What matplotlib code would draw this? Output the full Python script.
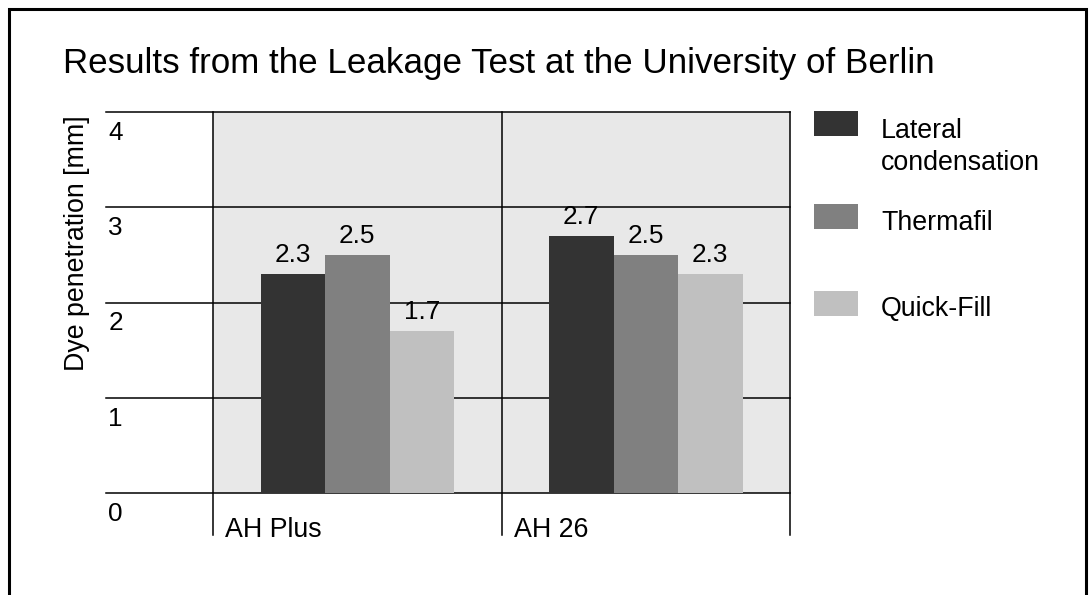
import matplotlib
matplotlib.use("Agg")
import matplotlib.pyplot as plt
from matplotlib.patches import Rectangle
import numpy as np

categories = ["AH Plus", "AH 26"]
series_names = ["Lateral\ncondensation", "Thermafil", "Quick-Fill"]
lateral = [2.3, 2.7]
thermafil = [2.5, 2.5]
quickfill = [1.7, 2.3]
value_labels = [["2.3", "2.7"], ["2.5", "2.5"], ["1.7", "2.3"]]
yticks = [0, 1, 2, 3, 4]
colors = ["#333333", "#808080", "#c0c0c0"]

W, H = 1089, 595
plt.rcParams['font.family'] = ['Liberation Sans', 'DejaVu Sans']
fig = plt.figure(figsize=(W / 100, H / 100), dpi=100)

def fx(px):
    return px / W

def fy(py):
    return 1 - py / H

# figure border
fig.add_artist(Rectangle((fx(9), -0.05), fx(1086) - fx(9), fy(9.5) + 0.05,
                         transform=fig.transFigure, fill=False, edgecolor='black',
                         linewidth=2.2, clip_on=False))

left, right, top, bottom = 213, 790, 112, 493
ax = fig.add_axes([fx(left), fy(bottom), fx(right) - fx(left), fy(top) - fy(bottom)])
ax.set_facecolor('#e8e8e8')
for s in ax.spines.values():
    s.set_visible(False)
ax.set_xlim(0, 2)
ax.set_ylim(0, 4)
ax.set_xticks([])
ax.set_yticks([])

unit_px = (bottom - top) / 4.0
fs_num = 18.8
fs_txt = 19.3

# horizontal gridlines extending left
xmin_ax = (106 - left) / (right - left)
for t in yticks:
    ax.axhline(t, xmin=xmin_ax, xmax=1, color='black', linewidth=1.1, clip_on=False, zorder=1)
    ax.text(xmin_ax + 0.004, t - 9 / unit_px, str(t), transform=ax.get_yaxis_transform(),
            ha='left', va='top', fontsize=fs_num, clip_on=False)

# vertical lines
ymin_ax = -(535 - bottom) / (bottom - top)
for xv in [0, 1, 2]:
    ax.axvline(xv, ymin=ymin_ax, ymax=1, color='black', linewidth=1.1, clip_on=False, zorder=1)

# bars
bw = 64.5 / 288.5
x = np.arange(len(categories)) + 0.5
series = [lateral, thermafil, quickfill]
for i, (vals, c) in enumerate(zip(series, colors)):
    xs = x + (i - 1) * bw
    ax.bar(xs, vals, width=bw, color=c, zorder=2)
    for xi, v, lab in zip(xs, vals, value_labels[i]):
        ax.text(xi, v + 7 / unit_px, lab, ha='center', va='bottom', fontsize=fs_num, zorder=3)

# category labels
for xi, cat in zip(np.arange(len(categories)), categories):
    ax.text(xi + 12 / 288.5, -(517 - bottom) / (bottom - top), cat,
            transform=ax.get_xaxis_transform(), ha='left', va='top', fontsize=fs_txt, clip_on=False)

# y label
fig.text(fx(77), fy(243), "Dye penetration [mm]", rotation=90, ha='center', va='center', fontsize=fs_txt)

# title
fig.text(fx(63), fy(73), "Results from the Leakage Test at the University of Berlin",
         ha='left', va='baseline', fontsize=25.2)

# legend
sq = [(111, 136), (204, 229), (291, 316)]
for (y0, y1), c in zip(sq, colors):
    fig.add_artist(Rectangle((fx(814), fy(y1)), fx(858) - fx(814), fy(y0) - fy(y1),
                             transform=fig.transFigure, facecolor=c, edgecolor='none'))
lines_text = [("Lateral", 138), ("condensation", 170), ("Thermafil", 230), ("Quick-Fill", 316)]
for t, yb in lines_text:
    fig.text(fx(881), fy(yb), t, ha='left', va='baseline', fontsize=fs_txt)

fig.savefig("out.png", dpi=100)
